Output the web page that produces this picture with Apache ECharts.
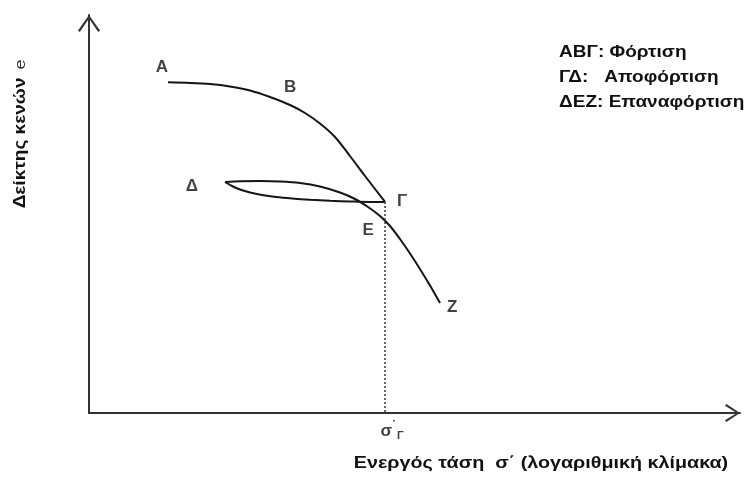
<!DOCTYPE html>
<html>
<head>
<meta charset="utf-8">
<script src="https://cdn.jsdelivr.net/npm/echarts@6/dist/echarts.min.js"></script>
<style>html,body{margin:0;padding:0;background:#fff}#c{width:754px;height:480px}</style>
</head>
<body>
<div id="c"></div>
<script>
// Loading curve Α-Β-Γ
const loadingX = [12.14, 15.51, 18.59, 21.66, 24.73, 27.80, 30.88, 33.18, 35.48, 37.79, 40.09, 42.40, 45.47];
const loadingY = [83.09, 82.94, 82.66, 82.04, 81.03, 79.40, 77.39, 75.38, 72.74, 69.35, 64.57, 59.55, 53.02];
// Unloading Γ-Δ (listed from Δ to Γ)
const unloadingX = [20.89, 21.97, 23.20, 24.73, 26.57, 28.73, 31.18, 33.95, 37.02, 40.09, 43.16, 45.47];
const unloadingY = [58.04, 57.04, 56.16, 55.40, 54.77, 54.27, 53.89, 53.57, 53.32, 53.14, 53.02, 53.02];
// Reloading Δ-Ε-Ζ
const reloadingX = [20.89, 23.20, 26.27, 29.34, 32.41, 35.48, 38.56, 40.86, 42.86, 44.70, 46.24, 47.77, 49.31, 50.84, 52.38, 53.92];
const reloadingY = [58.04, 58.22, 58.29, 58.17, 57.79, 56.91, 55.40, 53.77, 51.76, 49.50, 46.98, 43.72, 40.08, 36.18, 32.04, 27.64];
// Preconsolidation stress σ'Γ
const sigmaGammaX = 45.47;
// Point labels
const pointNames = ['Α', 'Β', 'Γ', 'Δ', 'Ε', 'Ζ'];
const pointLabelX = [11.2, 30.9, 48.1, 15.8, 42.9, 55.8];
const pointLabelY = [86.9, 81.8, 53.1, 56.9, 46.0, 26.6];
// Texts
const xTitle = 'Ενεργός τάση  σ΄ (λογαριθμική κλίμακα)';
const yTitle = 'Δείκτης κενών';
const yTitleVar = 'e';
const legendLines = ['ΑΒΓ: Φόρτιση', 'ΓΔ:   Αποφόρτιση', 'ΔΕΖ: Επαναφόρτιση'];

const FONT = '"Liberation Sans", Arial, sans-serif';
const INK = '#111';
const zip = (xs, ys) => xs.map((x, i) => [x, ys[i]]);

const chart = echarts.init(document.getElementById('c'), null, {renderer: 'canvas'});
const curveStyle = {color: '#151515', width: 2};
const axisCommon = {
  type: 'value', min: 0, max: 100,
  splitLine: {show: false}, axisTick: {show: false}, axisLabel: {show: false}
};
chart.setOption({
  animation: false,
  backgroundColor: '#fff',
  grid: {left: 89, right: 14, top: 15, bottom: 67},
  xAxis: Object.assign({}, axisCommon, {
    axisLine: {show: true, onZero: false, lineStyle: {color: '#333', width: 2},
      symbol: ['none', 'path://M9,0 L18,13.6 L16.2,15 L9,3.2 L1.8,15 L0,13.6 Z'],
      symbolSize: [18, 15], symbolOffset: [0, -7.5]}
  }),
  yAxis: Object.assign({}, axisCommon, {
    axisLine: {show: true, onZero: false, lineStyle: {color: '#333', width: 2},
      symbol: ['none', 'path://M11,0 L22,15.6 L20.2,17 L11,3.4 L1.8,17 L0,15.6 Z'],
      symbolSize: [22, 17], symbolOffset: [0, -8.5]}
  }),
  series: [
    {type: 'line', data: zip(loadingX, loadingY), smooth: 0.3, showSymbol: false, lineStyle: curveStyle},
    {type: 'line', data: zip(unloadingX, unloadingY), smooth: 0.3, showSymbol: false, lineStyle: curveStyle},
    {type: 'line', data: zip(reloadingX, reloadingY), smooth: 0.3, showSymbol: false, lineStyle: curveStyle},
    {type: 'line', data: [[sigmaGammaX, loadingY[loadingY.length - 1]], [sigmaGammaX, 0]], showSymbol: false,
      lineStyle: {color: '#444', width: 1.6, type: [2, 2]}},
    {type: 'scatter', symbolSize: 0, silent: true,
      data: pointNames.map((n, i) => ({name: n, value: [pointLabelX[i], pointLabelY[i]]})),
      label: {show: true, position: 'inside', formatter: p => p.name,
        fontFamily: FONT, fontWeight: 'bold', fontSize: 17, color: INK}},
    {type: 'scatter', symbolSize: 0, silent: true,
      data: [[sigmaGammaX, 0]],
      label: {show: true, position: 'bottom', distance: 8, offset: [7, 0],
        formatter: '{a|σ}{b|΄}{c|Γ}',
        rich: {
          a: {fontFamily: FONT, fontWeight: 'bold', fontSize: 17, color: INK},
          b: {fontFamily: FONT, fontWeight: 'bold', fontSize: 12, color: INK, verticalAlign: 'top', padding: [0, 1, 0, 0]},
          c: {fontFamily: FONT, fontWeight: 'bold', fontSize: 11, color: INK, padding: [9, 0, 0, 0]}
        }}}
  ],
  graphic: [
    {type: 'text', x: 541, y: 463, scaleX: 1.16, silent: true,
      style: {text: xTitle, font: 'bold 17px ' + FONT, fill: INK, align: 'center', verticalAlign: 'middle'}},
    {type: 'text', x: 21, y: 134, rotation: Math.PI / 2, scaleX: 1.19, silent: true,
      style: {text: '{t|' + yTitle + '}  {v|' + yTitleVar + '}', align: 'center', verticalAlign: 'middle',
        rich: {t: {font: 'bold 16px ' + FONT, fill: INK}, v: {font: '15px ' + FONT, fill: '#333'}}}},
    {type: 'text', x: 559, y: 77, scaleX: 1.12, silent: true,
      style: {text: legendLines.join('\n'), font: 'bold 17px ' + FONT, fill: INK,
        lineHeight: 25, align: 'left', verticalAlign: 'middle'}}
  ]
});
</script>
</body>
</html>
